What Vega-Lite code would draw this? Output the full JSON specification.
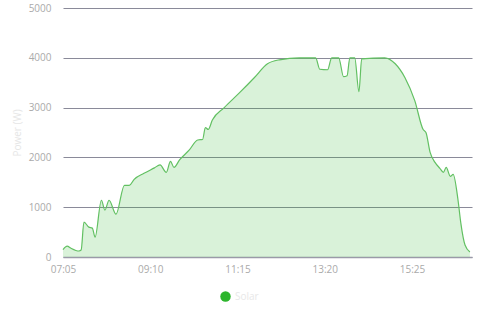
{
  "$schema": "https://vega.github.io/schema/vega-lite/v6.json",
  "width": 409,
  "height": 249,
  "autosize": "none",
  "padding": {"left": 63, "top": 8, "right": 8, "bottom": 63},
  "background": "white",
  "config": {"view": {"stroke": null}, "font": "Open Sans"},
  "data": {"values": [
    {"t": "2024-01-01T07:05:00", "p": 150, "s": "Solar"},
    {"t": "2024-01-01T07:11:00", "p": 220, "s": "Solar"},
    {"t": "2024-01-01T07:16:00", "p": 180, "s": "Solar"},
    {"t": "2024-01-01T07:28:00", "p": 120, "s": "Solar"},
    {"t": "2024-01-01T07:31:00", "p": 140, "s": "Solar"},
    {"t": "2024-01-01T07:35:00", "p": 700, "s": "Solar"},
    {"t": "2024-01-01T07:42:00", "p": 600, "s": "Solar"},
    {"t": "2024-01-01T07:47:00", "p": 580, "s": "Solar"},
    {"t": "2024-01-01T07:51:00", "p": 400, "s": "Solar"},
    {"t": "2024-01-01T08:00:00", "p": 1140, "s": "Solar"},
    {"t": "2024-01-01T08:05:00", "p": 940, "s": "Solar"},
    {"t": "2024-01-01T08:11:00", "p": 1140, "s": "Solar"},
    {"t": "2024-01-01T08:21:00", "p": 860, "s": "Solar"},
    {"t": "2024-01-01T08:33:00", "p": 1440, "s": "Solar"},
    {"t": "2024-01-01T08:40:00", "p": 1440, "s": "Solar"},
    {"t": "2024-01-01T08:47:00", "p": 1560, "s": "Solar"},
    {"t": "2024-01-01T09:01:00", "p": 1680, "s": "Solar"},
    {"t": "2024-01-01T09:16:00", "p": 1790, "s": "Solar"},
    {"t": "2024-01-01T09:24:00", "p": 1850, "s": "Solar"},
    {"t": "2024-01-01T09:33:00", "p": 1700, "s": "Solar"},
    {"t": "2024-01-01T09:39:00", "p": 1920, "s": "Solar"},
    {"t": "2024-01-01T09:44:00", "p": 1800, "s": "Solar"},
    {"t": "2024-01-01T09:52:00", "p": 1950, "s": "Solar"},
    {"t": "2024-01-01T10:06:00", "p": 2150, "s": "Solar"},
    {"t": "2024-01-01T10:18:00", "p": 2350, "s": "Solar"},
    {"t": "2024-01-01T10:25:00", "p": 2360, "s": "Solar"},
    {"t": "2024-01-01T10:29:00", "p": 2600, "s": "Solar"},
    {"t": "2024-01-01T10:33:00", "p": 2560, "s": "Solar"},
    {"t": "2024-01-01T10:39:00", "p": 2750, "s": "Solar"},
    {"t": "2024-01-01T10:56:00", "p": 3000, "s": "Solar"},
    {"t": "2024-01-01T11:18:00", "p": 3300, "s": "Solar"},
    {"t": "2024-01-01T11:39:00", "p": 3600, "s": "Solar"},
    {"t": "2024-01-01T11:58:00", "p": 3880, "s": "Solar"},
    {"t": "2024-01-01T12:15:00", "p": 3960, "s": "Solar"},
    {"t": "2024-01-01T12:44:00", "p": 4000, "s": "Solar"},
    {"t": "2024-01-01T13:07:00", "p": 4000, "s": "Solar"},
    {"t": "2024-01-01T13:13:00", "p": 3770, "s": "Solar"},
    {"t": "2024-01-01T13:24:00", "p": 3760, "s": "Solar"},
    {"t": "2024-01-01T13:30:00", "p": 4000, "s": "Solar"},
    {"t": "2024-01-01T13:40:00", "p": 4000, "s": "Solar"},
    {"t": "2024-01-01T13:47:00", "p": 3620, "s": "Solar"},
    {"t": "2024-01-01T13:52:00", "p": 3640, "s": "Solar"},
    {"t": "2024-01-01T13:56:00", "p": 4000, "s": "Solar"},
    {"t": "2024-01-01T14:03:00", "p": 4000, "s": "Solar"},
    {"t": "2024-01-01T14:09:00", "p": 3320, "s": "Solar"},
    {"t": "2024-01-01T14:13:00", "p": 3980, "s": "Solar"},
    {"t": "2024-01-01T14:46:00", "p": 4000, "s": "Solar"},
    {"t": "2024-01-01T15:01:00", "p": 3880, "s": "Solar"},
    {"t": "2024-01-01T15:15:00", "p": 3600, "s": "Solar"},
    {"t": "2024-01-01T15:29:00", "p": 3140, "s": "Solar"},
    {"t": "2024-01-01T15:41:00", "p": 2560, "s": "Solar"},
    {"t": "2024-01-01T15:45:00", "p": 2500, "s": "Solar"},
    {"t": "2024-01-01T15:51:00", "p": 2100, "s": "Solar"},
    {"t": "2024-01-01T15:58:00", "p": 1900, "s": "Solar"},
    {"t": "2024-01-01T16:05:00", "p": 1780, "s": "Solar"},
    {"t": "2024-01-01T16:10:00", "p": 1700, "s": "Solar"},
    {"t": "2024-01-01T16:14:00", "p": 1800, "s": "Solar"},
    {"t": "2024-01-01T16:20:00", "p": 1620, "s": "Solar"},
    {"t": "2024-01-01T16:24:00", "p": 1660, "s": "Solar"},
    {"t": "2024-01-01T16:31:00", "p": 1140, "s": "Solar"},
    {"t": "2024-01-01T16:35:00", "p": 680, "s": "Solar"},
    {"t": "2024-01-01T16:41:00", "p": 240, "s": "Solar"},
    {"t": "2024-01-01T16:48:00", "p": 100, "s": "Solar"}
  ]},
  "encoding": {
    "x": {
      "field": "t", "type": "temporal",
      "scale": {"domain": [
        {"year": 2024, "month": 1, "date": 1, "hours": 7, "minutes": 5},
        {"year": 2024, "month": 1, "date": 1, "hours": 16, "minutes": 51}
      ]},
      "axis": {
        "title": null, "format": "%H:%M", "grid": false, "ticks": false,
        "domain": true, "domainColor": "#9a9aa8", "domainWidth": 1.5,
        "labelColor": "#aaaaaa", "labelFontSize": 10, "labelPadding": 7,
        "labelFlush": false,
        "values": [
          {"year": 2024, "month": 1, "date": 1, "hours": 7, "minutes": 5},
          {"year": 2024, "month": 1, "date": 1, "hours": 9, "minutes": 10},
          {"year": 2024, "month": 1, "date": 1, "hours": 11, "minutes": 15},
          {"year": 2024, "month": 1, "date": 1, "hours": 13, "minutes": 20},
          {"year": 2024, "month": 1, "date": 1, "hours": 15, "minutes": 25}
        ]
      }
    },
    "y": {
      "field": "p", "type": "quantitative",
      "scale": {"domain": [0, 5000]},
      "axis": {
        "title": "Power (W)", "titleColor": "#e6e6e6", "titleFontWeight": "normal",
        "titleFontSize": 10, "titlePadding": 6, "format": "d",
        "values": [0, 1000, 2000, 3000, 4000, 5000],
        "domain": false, "ticks": false, "grid": true,
        "gridColor": "#8a8a99", "gridWidth": 1.2,
        "labelColor": "#aaaaaa", "labelFontSize": 10, "labelPadding": 12
      }
    }
  },
  "layer": [
    {
      "mark": {"type": "area", "interpolate": "monotone", "fillOpacity": 0.18},
      "encoding": {
        "color": {
          "field": "s", "type": "nominal",
          "scale": {"range": ["#2db52d"]},
          "legend": {
            "title": null, "orient": "none", "legendX": 157, "legendY": 283,
            "direction": "horizontal",
            "symbolType": "circle", "symbolSize": 110, "symbolOpacity": 1,
            "symbolFillColor": "#2db52d", "symbolStrokeWidth": 0,
            "labelColor": "#e8e8e8", "labelFontSize": 10
          }
        }
      }
    },
    {
      "mark": {"type": "line", "interpolate": "monotone", "color": "#62c062", "strokeWidth": 1.2},
      "encoding": {}
    }
  ]
}
